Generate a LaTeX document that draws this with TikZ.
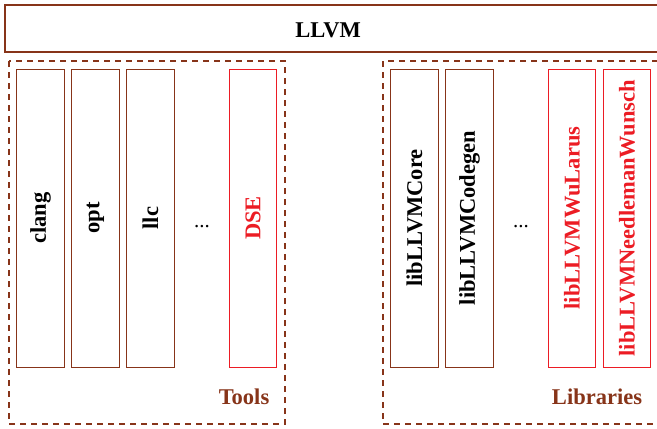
\documentclass[tikz,border=0pt]{standalone}
\usepackage{fontspec}
\setmainfont{Liberation Serif}
\definecolor{llvmbrown}{RGB}{135,52,25}
\definecolor{newred}{RGB}{236,28,36}

\begin{document}
\begin{tikzpicture}[x=1bp,y=-1bp,
  every node/.style={font=\fontsize{22.6}{26}\selectfont\bfseries},
  column/.style={draw=llvmbrown,line width=1bp,rotate=90,minimum width=298bp,minimum height=47.5bp,inner sep=0pt},
  newcolumn/.style={column,draw=newred,text=newred},
  group/.style={draw=llvmbrown,line width=1.1bp,dash pattern=on 6bp off 5bp},
  dots/.style={font=\fontsize{21}{21}\selectfont\mdseries}]
\useasboundingbox (0,0) rectangle (657,428);
\clip (0,0) rectangle (657,428);
  %%%%%%%%%%%%%%%% top bar
  \draw[llvmbrown,line width=2.8bp] (5,5) rectangle (680,52);
  \node (llvm) at (328,30) {LLVM};
  %%%%%%%%%%%%%%%% groups
  \draw[group] (9,61) rectangle (285,424);
  \draw[group] (383,61) rectangle (680,424);
  \node[text=llvmbrown] (tools) at (244,397) {Tools};
  \node[text=llvmbrown] (libs) at (597,397) {Libraries};
  %%%%%%%%%%%%%%%% tools
  \node[column] (clang) at (40.5,218) {clang};
  \node[column] (opt) at (95.5,218) {opt};
  \node[column] (llc) at (150.5,218) {llc};
  \node[dots] (tdots) at (202,227) {...};
  \node[newcolumn] (dse) at (253,218) {DSE};
  %%%%%%%%%%%%%%%% libraries
  \node[column] (core) at (414.5,218) {libLLVMCore};
  \node[column] (codegen) at (469.5,218) {libLLVMCodegen};
  \node[dots] (ldots) at (521,227) {...};
  \node[newcolumn] (wularus) at (572,218) {libLLVMWuLarus};
  \node[newcolumn] (nw) at (627,218) {libLLVMNeedlemanWunsch};
\end{tikzpicture}
\end{document}
